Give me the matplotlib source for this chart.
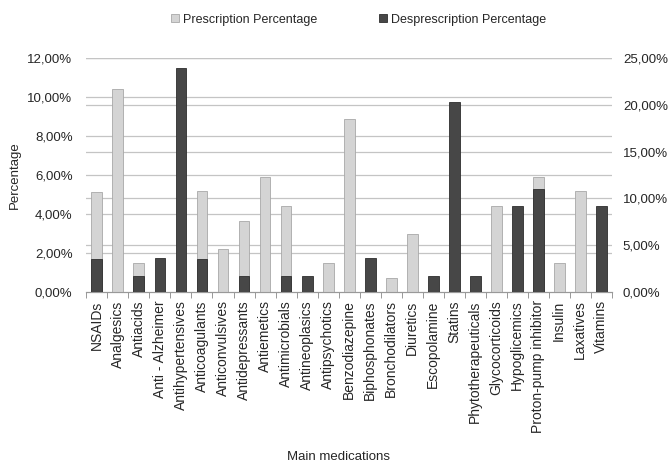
import matplotlib

matplotlib.use("Agg")
import matplotlib.pyplot as plt
from matplotlib.ticker import FuncFormatter
import numpy as np

plt.rcParams["font.family"] = ["Liberation Sans", "DejaVu Sans"]

medications = [
    "NSAIDs", "Analgesics", "Antiacids", "Anti - Alzheimer", "Antihypertensives",
    "Anticoagulants", "Anticonvulsives", "Antidepressants", "Antiemetics",
    "Antimicrobials", "Antineoplasics", "Antipsychotics", "Benzodiazepine",
    "Biphosphonates", "Bronchodilators", "Diuretics", "Escopolamine", "Statins",
    "Phytotherapeuticals", "Glycocorticoids", "Hypoglicemics",
    "Proton-pump inhibitor", "Insulin", "Laxatives", "Vitamins",
]
# left axis (%), bars hidden behind the dark series read as 0
prescription = [5.15, 10.4, 1.5, 0, 0, 5.2, 2.2, 3.65, 5.9, 4.4, 0, 1.5, 8.9,
                0, 0.7, 3.0, 0, 0, 0, 4.4, 0, 5.9, 1.5, 5.2, 0]
# right axis (%)
desprescription = [3.5, 0, 1.7, 3.6, 24.0, 3.5, 0, 1.7, 0, 1.7, 1.7, 0, 0,
                   3.6, 0, 0, 1.7, 20.3, 1.7, 0, 9.2, 11.0, 0, 0, 9.2]

LEFT_MAX, RIGHT_MAX = 12, 25
LIGHT = "#d4d4d4"
DARK = "#474747"
GRID = "#c4c4c4"
TXT = "#262626"

fig = plt.figure(figsize=(6.7, 4.62), dpi=100)
ax = fig.add_axes([0.129, 0.368, 0.784, 0.506])
ax2 = ax.twinx()

x = np.arange(len(medications))
ax.bar(x, prescription, width=0.52, color=LIGHT, edgecolor="#a8a8a8",
       linewidth=0.6, zorder=3, label="Prescription Percentage")
ax2.bar(x, desprescription, width=0.52, color=DARK, edgecolor="#2e2e2e",
        linewidth=0.6, zorder=3, label="Desprescription Percentage")

ax.set_ylim(0, LEFT_MAX)
ax2.set_ylim(0, RIGHT_MAX)
ax.set_xlim(-0.5, len(medications) - 0.5)

left_ticks = np.arange(0, LEFT_MAX + 1, 2)
right_ticks = np.arange(0, RIGHT_MAX + 1, 5)
ax.set_yticks(left_ticks)
ax2.set_yticks(right_ticks)
pct = FuncFormatter(lambda v, _: f"{v:.2f}%".replace(".", ","))
ax.yaxis.set_major_formatter(pct)
ax2.yaxis.set_major_formatter(pct)

# gridlines for both scales, kept behind the bars
for t in left_ticks[1:]:
    ax.axhline(t, color=GRID, lw=0.9, zorder=1)
for t in right_ticks[1:]:
    ax.axhline(t * LEFT_MAX / RIGHT_MAX, color=GRID, lw=0.9, zorder=1)

ax.set_xticks(x)
ax.set_xticklabels(medications, rotation=90, fontsize=10, color=TXT)
ax.set_xticks(np.arange(-0.5, len(medications)), minor=True)
ax.tick_params(axis="x", which="major", length=0, pad=6)
ax.tick_params(axis="x", which="minor", length=4, color="#888888", direction="out")
ax.tick_params(axis="y", length=0, labelsize=9.5, labelcolor=TXT, pad=10)
ax2.tick_params(axis="y", length=0, labelsize=9.5, labelcolor=TXT, pad=8)

for a in (ax, ax2):
    for side in ("left", "right", "top"):
        a.spines[side].set_visible(False)
    a.spines["bottom"].set_color("#999999")

ax.set_ylabel("Percentage", fontsize=9.5, color=TXT, labelpad=0)
ax.yaxis.set_label_coords(-0.125, 0.5)
fig.text(0.505, 0.005, "Main medications", ha="center", fontsize=9.5, color=TXT)

h1, l1 = ax.get_legend_handles_labels()
h2, l2 = ax2.get_legend_handles_labels()
fig.legend(h1 + h2, l1 + l2, loc="upper center", bbox_to_anchor=(0.535, 0.995),
           ncol=2, frameon=False, fontsize=9, handlelength=0.6,
           handleheight=0.6, handletextpad=0.3, columnspacing=5.0,
           labelcolor=TXT)

fig.savefig("out.png", dpi=100)
